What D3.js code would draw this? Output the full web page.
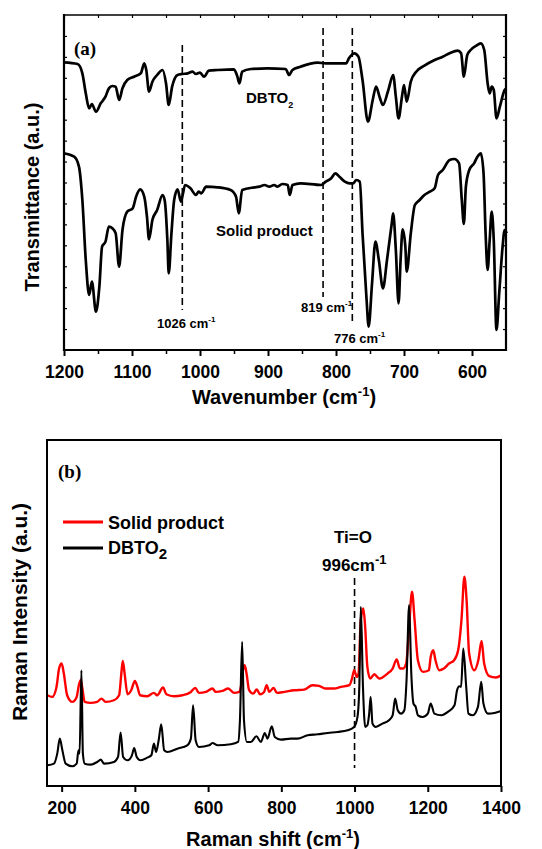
<!DOCTYPE html>
<html lang="en">
<head>
<meta charset="UTF-8">
<title>FTIR and Raman</title>
<script src="https://cdn.jsdelivr.net/npm/d3@7"></script>
<style>
  body { margin: 0; background: #fff; }
  text { font-family: "Liberation Sans", Arial, sans-serif; font-weight: bold; fill: #000; }
  .serif { font-family: "Liberation Serif", "Times New Roman", serif; }
</style>
</head>
<body>
<div id="chart"></div>
<script>
// ---- panel (a): FTIR, [wavenumber, transmittance a.u.]
var ftirTicks = [1200, 1100, 1000, 900, 800, 700, 600];
var ftirMinor = [1150, 1050, 950, 850, 750, 650];
var ftirDbto = [[1200,86.3],[1180,85.8],[1173,83.0],[1168,77.0],[1163,72.5],[1159,73.8],[1153,71.5],[1146,74.0],[1139,76.0],[1134,78.5],[1129,79.2],[1124,79.0],[1119,75.0],[1114,78.5],[1107,81.0],[1097,82.0],[1087,83.0],[1082,86.0],[1079,84.0],[1075,77.5],[1070,80.5],[1063,82.5],[1055,84.0],[1050,80.0],[1046,73.5],[1041,79.0],[1033,82.5],[1026,82.8],[1018,83.0],[1011,83.5],[1006,82.8],[1000,83.2],[994,82.0],[987,83.8],[974,84.0],[950,84.2],[945,82.0],[942,80.0],[938,83.5],[925,84.3],[901,84.5],[874,84.3],[869,82.5],[864,84.0],[852,85.0],[827,86.2],[815,86.0],[803,86.0],[785,86.0],[781,87.5],[773,89.0],[767,88.0],[761,81.0],[753,68.5],[746,75.0],[741,79.0],[736,76.0],[731,73.5],[723,78.0],[716,82.5],[712,76.0],[708,69.5],[703,76.0],[700,79.5],[696,74.5],[690,80.5],[682,83.5],[670,85.3],[655,87.0],[643,88.0],[633,89.0],[621,89.8],[616,89.0],[612,82.0],[607,88.5],[602,90.0],[592,91.5],[587,92.0],[582,90.0],[577,80.0],[574,77.0],[571,79.0],[568,78.0],[564,69.5],[559,73.0],[552,78.0],[549,78.5]];
var ftirSolid = [[1200,59.0],[1185,58.0],[1178,55.0],[1173,45.0],[1168,27.0],[1163,16.5],[1159,20.5],[1153,11.5],[1148,19.0],[1144,31.0],[1139,32.5],[1134,37.0],[1129,36.5],[1124,35.0],[1119,25.0],[1114,36.0],[1107,41.5],[1099,42.5],[1094,46.0],[1088,48.2],[1082,46.0],[1078,40.0],[1075,33.2],[1070,39.0],[1063,42.0],[1055,46.5],[1052,45.0],[1048,33.0],[1046,23.0],[1042,35.0],[1038,45.0],[1033,48.2],[1028,44.5],[1025,47.0],[1022,49.5],[1014,48.5],[1006,46.5],[1002,47.5],[998,47.0],[991,49.0],[974,48.8],[955,48.0],[947,46.0],[943,41.0],[938,48.0],[920,48.8],[913,49.0],[905,49.5],[898,49.0],[891,49.5],[886,49.0],[879,49.8],[871,49.5],[868,46.5],[864,49.5],[852,50.0],[822,49.5],[815,50.5],[807,51.5],[801,53.0],[795,52.0],[787,50.5],[780,50.0],[775,50.0],[770,51.0],[765,50.5],[761,35.0],[755,15.0],[752,7.0],[747,20.0],[742,32.5],[737,27.0],[731,18.5],[725,27.0],[718,38.0],[716,41.0],[712,30.0],[708,14.0],[705,27.0],[702,36.2],[698,31.0],[696,23.5],[690,35.0],[684,43.5],[677,45.0],[670,46.5],[662,47.5],[655,48.5],[650,52.5],[643,54.0],[633,57.0],[626,57.3],[619,56.0],[615,45.0],[612,37.8],[609,49.0],[604,54.0],[597,56.0],[592,58.0],[587,59.0],[583,53.0],[580,35.0],[577,24.0],[574,33.0],[571,41.5],[568,33.0],[564,6.0],[560,17.0],[555,31.0],[552,36.0],[549,35.0]];
var ftirMarks = [1026, 819, 776];

// ---- panel (b): Raman, [shift, intensity a.u.]
var ramanTicks = [200, 400, 600, 800, 1000, 1200, 1400];
var ramanSolid = [[161,27.2],[174,26.7],[186,29.7],[193,35.2],[200,36.7],[206,33.7],[215,27.2],[229,25.2],[241,26.7],[247,30.2],[252,31.7],[256,29.7],[263,25.2],[279,24.9],[297,25.2],[309,26.2],[320,25.2],[343,25.7],[357,27.2],[363,33.7],[367,37.5],[372,33.7],[380,27.5],[390,28.7],[400,31.5],[407,29.7],[414,27.2],[434,26.9],[452,27.9],[461,27.2],[477,29.5],[486,27.5],[507,26.9],[530,27.2],[553,28.2],[565,29.4],[575,27.9],[594,28.2],[612,29.2],[621,28.2],[639,28.5],[655,29.2],[671,27.9],[685,28.2],[691,30.7],[696,35.2],[700,36.2],[705,33.7],[712,28.7],[723,27.7],[733,28.9],[742,27.5],[753,28.2],[760,30.2],[767,28.2],[779,29.4],[788,27.9],[808,28.2],[835,28.7],[862,28.9],[885,30.2],[903,30.0],[922,29.2],[944,29.2],[963,29.7],[986,30.2],[993,32.2],[999,34.7],[1006,32.7],[1011,33.7],[1017,49.7],[1024,53.2],[1029,47.7],[1035,35.7],[1043,32.2],[1054,33.5],[1068,32.2],[1090,33.7],[1104,35.2],[1115,37.9],[1124,35.2],[1132,35.2],[1141,36.7],[1149,47.7],[1157,58.2],[1164,49.7],[1173,37.7],[1187,34.2],[1203,34.7],[1208,38.7],[1215,40.7],[1221,37.7],[1231,34.7],[1244,35.2],[1258,36.7],[1272,37.7],[1283,40.7],[1292,49.7],[1300,62.7],[1306,55.7],[1313,39.7],[1327,34.7],[1338,37.7],[1347,43.5],[1354,36.7],[1368,32.9],[1386,32.5],[1400,33.2]];
var ramanDbto = [[161,6.2],[179,6.7],[188,9.7],[195,14.2],[202,10.7],[211,6.7],[229,5.9],[241,6.7],[246,10.7],[249,9.7],[254,34.7],[258,9.7],[263,6.7],[279,6.4],[297,7.2],[307,7.9],[316,6.7],[343,7.2],[354,8.7],[361,16.0],[368,8.7],[380,7.7],[392,9.2],[398,11.4],[405,8.7],[416,7.7],[434,8.5],[445,9.2],[452,12.7],[458,10.2],[465,13.7],[472,18.5],[480,10.7],[489,10.2],[516,11.2],[543,12.2],[553,14.2],[559,24.2],[566,13.7],[575,11.7],[603,12.2],[612,12.9],[626,12.2],[662,12.5],[682,13.2],[687,19.7],[693,43.2],[698,19.7],[706,13.2],[717,13.2],[732,14.9],[744,13.2],[755,15.9],[762,14.2],[774,17.9],[782,14.7],[799,13.9],[826,14.2],[844,14.2],[872,15.2],[899,15.5],[927,15.9],[954,16.2],[981,16.7],[999,17.7],[1008,20.7],[1013,29.7],[1017,53.7],[1023,29.7],[1029,17.7],[1035,18.2],[1040,21.7],[1044,26.7],[1049,18.7],[1058,17.7],[1076,18.7],[1094,19.7],[1104,21.2],[1111,26.2],[1118,22.7],[1127,21.7],[1136,22.7],[1142,31.7],[1149,54.2],[1155,33.7],[1161,24.7],[1167,23.7],[1173,21.2],[1186,20.7],[1200,21.7],[1208,24.7],[1218,21.7],[1237,21.2],[1255,22.2],[1273,24.2],[1280,28.7],[1286,29.9],[1291,29.7],[1297,41.2],[1305,29.7],[1311,21.7],[1323,21.2],[1337,23.7],[1346,31.2],[1352,24.7],[1364,21.7],[1382,21.9],[1400,22.5]];
var ramanMark = 1000;

var svg = d3.select("#chart").append("svg")
    .attr("width", 542).attr("height", 849);
svg.append("rect").attr("width", 542).attr("height", 849).attr("fill", "#fff");

// superscript helper: main text + raised small text + tail
function addText(g, x, y, size, parts, anchor) {
    var t = g.append("text").attr("x", x).attr("y", y)
        .attr("font-size", size).attr("text-anchor", anchor || "start");
    parts.forEach(function (p) {
        var s = t.append("tspan").text(p.t);
        if (p.size) s.attr("font-size", p.size);
        if (p.dy) s.attr("dy", p.dy);
    });
    return t;
}

// ================= panel (a) =================
var xa = d3.scaleLinear().domain([1200, 550]).range([64, 506]);
var ya = d3.scaleLinear().domain([0, 100.5]).range([350, 15]);
var ga = svg.append("g");

var lineA = d3.line()
    .x(function (d) { return xa(d[0]); })
    .y(function (d) { return ya(d[1]); })
    .curve(d3.curveMonotoneX);

[ftirDbto, ftirSolid].forEach(function (s) {
    ga.append("path").datum(s).attr("d", lineA)
        .attr("fill", "none").attr("stroke", "#000")
        .attr("stroke-width", 2.7).attr("stroke-linejoin", "round");
});

// dashed marker lines
var markTop = { 1026: [45, 310], 819: [28, 297], 776: [28, 325] };
ftirMarks.forEach(function (m) {
    ga.append("line").attr("x1", xa(m)).attr("x2", xa(m))
        .attr("y1", markTop[m][0]).attr("y2", markTop[m][1])
        .attr("stroke", "#000").attr("stroke-width", 1.6)
        .attr("stroke-dasharray", "7,4");
});

// axes
ga.append("g").attr("transform", "translate(0,350)")
    .call(d3.axisBottom(xa).tickValues(ftirTicks).tickSize(6).tickPadding(5).tickFormat(d3.format("d")))
    .call(function (g) {
        g.select(".domain").remove();
        g.selectAll("line").attr("stroke-width", 2);
        g.selectAll("text").attr("font-size", 17.5).attr("font-family", null).attr("dy", "0.95em");
    });
ga.append("g").attr("transform", "translate(0,350)")
    .call(d3.axisBottom(xa).tickValues(ftirMinor).tickSize(4).tickFormat(""))
    .call(function (g) { g.select(".domain").remove(); g.selectAll("line").attr("stroke-width", 1.5); });
ga.append("g").attr("transform", "translate(0,15)")
    .call(d3.axisBottom(xa).tickValues(ftirTicks.concat(ftirMinor)).tickSize(3).tickFormat(""))
    .call(function (g) { g.select(".domain").remove(); g.selectAll("line").attr("stroke-width", 1.2); });
var yTicksA = d3.range(1, 16).map(function (i) { return i * 100.5 / 16; });
ga.append("g").attr("transform", "translate(64,0)")
    .call(d3.axisRight(ya).tickValues(yTicksA).tickSize(3).tickFormat(""))
    .call(function (g) { g.select(".domain").remove(); g.selectAll("line").attr("stroke-width", 1.2); });
ga.append("g").attr("transform", "translate(506,0)")
    .call(d3.axisLeft(ya).tickValues(yTicksA).tickSize(3).tickFormat(""))
    .call(function (g) { g.select(".domain").remove(); g.selectAll("line").attr("stroke-width", 1.2); });

// frame
ga.append("line").attr("x1", 64).attr("x2", 506).attr("y1", 15).attr("y2", 15).attr("stroke", "#000").attr("stroke-width", 1.5);
ga.append("line").attr("x1", 63).attr("x2", 507).attr("y1", 350).attr("y2", 350).attr("stroke", "#000").attr("stroke-width", 2.2);
ga.append("line").attr("x1", 64).attr("x2", 64).attr("y1", 14).attr("y2", 351).attr("stroke", "#000").attr("stroke-width", 2.2);
ga.append("line").attr("x1", 506).attr("x2", 506).attr("y1", 14).attr("y2", 351).attr("stroke", "#000").attr("stroke-width", 2.2);

// labels
ga.append("text").attr("class", "serif").attr("x", 74).attr("y", 55).attr("font-size", 19).text("(a)");
addText(ga, 246, 103, 15, [{ t: "DBTO" }, { t: "2", size: 9, dy: 5 }]);
addText(ga, 216, 236, 15, [{ t: "Solid product" }]);
addText(ga, 157, 328, 13, [{ t: "1026 cm" }, { t: "-1", size: 8, dy: -6 }]);
addText(ga, 301, 312, 13, [{ t: "819 cm" }, { t: "-1", size: 8, dy: -6 }]);
addText(ga, 334, 343, 13, [{ t: "776 cm" }, { t: "-1", size: 8, dy: -6 }]);
addText(ga, 284, 404, 20, [{ t: "Wavenumber (cm" }, { t: "-1", size: 13, dy: -8 }, { t: ")", dy: 8 }], "middle");
ga.append("text").attr("transform", "translate(32,197) rotate(-90)")
    .attr("text-anchor", "middle").attr("dy", "0.36em").attr("font-size", 20)
    .text("Transmittance (a.u.)");

// ================= panel (b) =================
var xb = d3.scaleLinear().domain([160, 1400]).range([47, 501]);
var yb = d3.scaleLinear().domain([0, 103.7]).range([786, 440]);
var gb = svg.append("g");

var lineB = d3.line()
    .x(function (d) { return xb(d[0]); })
    .y(function (d) { return yb(d[1]); })
    .curve(d3.curveMonotoneX);

gb.append("line").attr("x1", xb(ramanMark)).attr("x2", xb(ramanMark))
    .attr("y1", 578).attr("y2", 768)
    .attr("stroke", "#000").attr("stroke-width", 1.6).attr("stroke-dasharray", "7,4");

gb.append("path").datum(ramanSolid).attr("d", lineB)
    .attr("fill", "none").attr("stroke", "#ff0000").attr("stroke-width", 2.4).attr("stroke-linejoin", "round");
gb.append("path").datum(ramanDbto).attr("d", lineB)
    .attr("fill", "none").attr("stroke", "#000").attr("stroke-width", 2.1).attr("stroke-linejoin", "round");

gb.append("g").attr("transform", "translate(0,786)")
    .call(d3.axisBottom(xb).tickValues(ramanTicks).tickSize(6).tickPadding(5).tickFormat(d3.format("d")))
    .call(function (g) {
        g.select(".domain").remove();
        g.selectAll("line").attr("stroke-width", 2);
        g.selectAll("text").attr("font-size", 17.5).attr("font-family", null).attr("dy", "0.95em");
    });
gb.append("rect").attr("x", 47).attr("y", 440).attr("width", 454).attr("height", 346)
    .attr("fill", "none").attr("stroke", "#000").attr("stroke-width", 2);

// legend
gb.append("line").attr("x1", 63).attr("x2", 103).attr("y1", 522).attr("y2", 522).attr("stroke", "#ff0000").attr("stroke-width", 3);
gb.append("line").attr("x1", 63).attr("x2", 103).attr("y1", 548).attr("y2", 548).attr("stroke", "#000").attr("stroke-width", 3);
addText(gb, 108, 529, 18, [{ t: "Solid product" }]);
addText(gb, 108, 554, 18, [{ t: "DBTO" }, { t: "2", size: 15, dy: 5 }]);

gb.append("text").attr("class", "serif").attr("x", 58).attr("y", 478).attr("font-size", 19).text("(b)");
addText(gb, 353, 543, 17, [{ t: "Ti=O" }], "middle");
addText(gb, 322, 571, 17, [{ t: "996cm" }, { t: "-1", size: 13, dy: -7 }]);

addText(gb, 273, 846, 20, [{ t: "Raman shift (cm" }, { t: "-1", size: 13, dy: -8 }, { t: ")", dy: 8 }], "middle");
gb.append("text").attr("transform", "translate(19,612) rotate(-90)")
    .attr("text-anchor", "middle").attr("dy", "0.36em").attr("font-size", 21)
    .text("Raman Intensity (a.u.)");
</script>
</body>
</html>
